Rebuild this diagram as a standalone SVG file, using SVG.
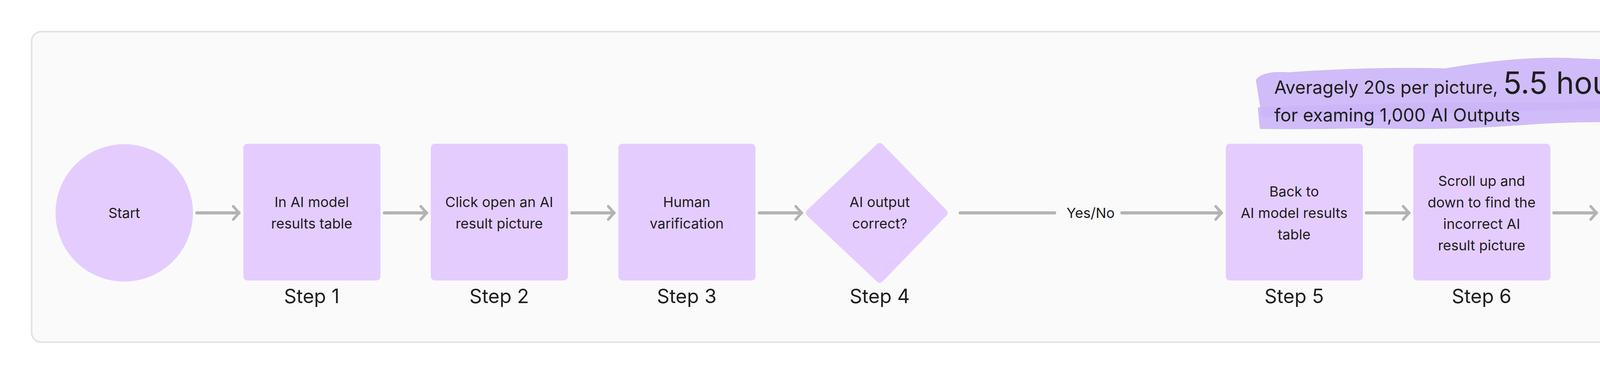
<svg xmlns="http://www.w3.org/2000/svg" width="5088" height="960" viewBox="0 0 5088 960">
<defs>
<marker id="ah" viewBox="0 0 20 40" refX="18" refY="20" markerWidth="20" markerHeight="40" markerUnits="userSpaceOnUse" orient="auto">
<path d="M3 3 L18 20 L3 37" fill="none" stroke="#b3b3b3" stroke-width="7" stroke-linecap="round" stroke-linejoin="round"/>
</marker>
</defs>
<style>
.n{fill:#e4ccff}
.t{font-family:Inter,"Liberation Sans",sans-serif;font-size:36px;fill:#1e1e1e;text-anchor:middle}
.s{font-family:Inter,"Liberation Sans",sans-serif;font-size:50px;fill:#1e1e1e;text-anchor:middle}
.c{stroke:#b3b3b3;stroke-width:8;fill:none;stroke-linecap:round;marker-end:url(#ah)}
.a{font-family:Inter,"Liberation Sans",sans-serif;font-size:46px;fill:#1e1e1e}
</style>
<rect width="5088" height="960" fill="#ffffff"/>
<rect x="81" y="81" width="4926" height="795" rx="24" fill="#fafafa" stroke="#e2e2e2" stroke-width="4"/>
<g id="highlight">
<path d="M3215 205 Q3230 180 3300 185 Q3500 170 3700 175 Q3900 140 4050 150 Q4230 155 4330 180 Q4375 200 4360 235 L4350 265 Q3900 290 3230 300 Z" fill="#cbb5f7" opacity="0.9"/>
<path d="M3220 275 Q3600 260 4000 262 Q4300 250 4380 262 Q4392 290 4370 320 Q4100 305 3900 320 Q3700 335 3500 328 Q3350 332 3225 330 Z" fill="#cbb5f7" opacity="0.9"/>
</g>
<text class="a" x="3262" y="240">Averagely 20s per picture, <tspan font-size="78px">5.5 hours</tspan> <tspan font-size="44px">saved</tspan></text>
<text class="a" x="3262" y="311">for examing 1,000 AI Outputs</text>
<g id="connectors">
<line class="c" x1="504" y1="545" x2="612" y2="545"/>
<line class="c" x1="984" y1="545" x2="1092" y2="545"/>
<line class="c" x1="1464" y1="545" x2="1572" y2="545"/>
<line class="c" x1="1944" y1="545" x2="2052" y2="545"/>
<line stroke="#b3b3b3" stroke-width="8" stroke-linecap="round" x1="2458" y1="545" x2="2700" y2="545"/>
<line class="c" x1="2872" y1="545" x2="3127" y2="545"/>
<text class="t" x="2792" y="558">Yes/No</text>
<line class="c" x1="3498" y1="545" x2="3607" y2="545"/>
<line class="c" x1="3978" y1="545" x2="4087" y2="545"/>
<line class="c" x1="4459" y1="545" x2="4567" y2="545"/>
</g>
<g id="start"><circle class="n" cx="318" cy="545" r="176"/><text class="t" x="318" y="558">Start</text></g>
<g id="step1"><rect class="n" x="623" y="368" width="351" height="350" rx="10"/><text class="t" x="798" y="530">In AI model</text><text class="t" x="798" y="585">results table</text><text class="s" x="798" y="776">Step 1</text></g>
<g id="step2"><rect class="n" x="1103" y="368" width="351" height="350" rx="10"/><text class="t" x="1278" y="530">Click open an AI</text><text class="t" x="1278" y="585">result picture</text><text class="s" x="1278" y="776">Step 2</text></g>
<g id="step3"><rect class="n" x="1583" y="368" width="351" height="350" rx="10"/><text class="t" x="1758" y="530">Human</text><text class="t" x="1758" y="585">varification</text><text class="s" x="1758" y="776">Step 3</text></g>
<g id="step4"><path class="n" d="M2252 370 Q2260 362 2268 370 L2430 537 Q2438 545 2430 553 L2268 720 Q2260 728 2252 720 L2075 553 Q2067 545 2075 537 Z" transform="translate(-8 0)"/><text class="t" x="2252" y="530">AI output</text><text class="t" x="2252" y="585">correct?</text><text class="s" x="2252" y="776">Step 4</text></g>
<g id="step5"><rect class="n" x="3138" y="368" width="351" height="350" rx="10"/><text class="t" x="3313" y="503">Back to</text><text class="t" x="3313" y="558">AI model results</text><text class="t" x="3313" y="613">table</text><text class="s" x="3313" y="776">Step 5</text></g>
<g id="step6"><rect class="n" x="3618" y="368" width="351" height="350" rx="10"/><text class="t" x="3793" y="476">Scroll up and</text><text class="t" x="3793" y="531">down to find the</text><text class="t" x="3793" y="586">incorrect AI</text><text class="t" x="3793" y="641">result picture</text><text class="s" x="3793" y="776">Step 6</text></g>
<g id="step7"><rect class="n" x="4098" y="368" width="351" height="350" rx="10"/><text class="t" x="4273" y="449">Mark the AI</text><text class="t" x="4273" y="504">Output</text><text class="t" x="4273" y="559">Verification:</text><text class="t" x="4273" y="614">correct or</text><text class="t" x="4273" y="669">incorrect</text><text class="s" x="4273" y="776">Step 7</text></g>
<g id="end"><circle class="n" cx="4754" cy="545" r="176"/><text class="t" x="4754" y="558">End</text></g>
</svg>
